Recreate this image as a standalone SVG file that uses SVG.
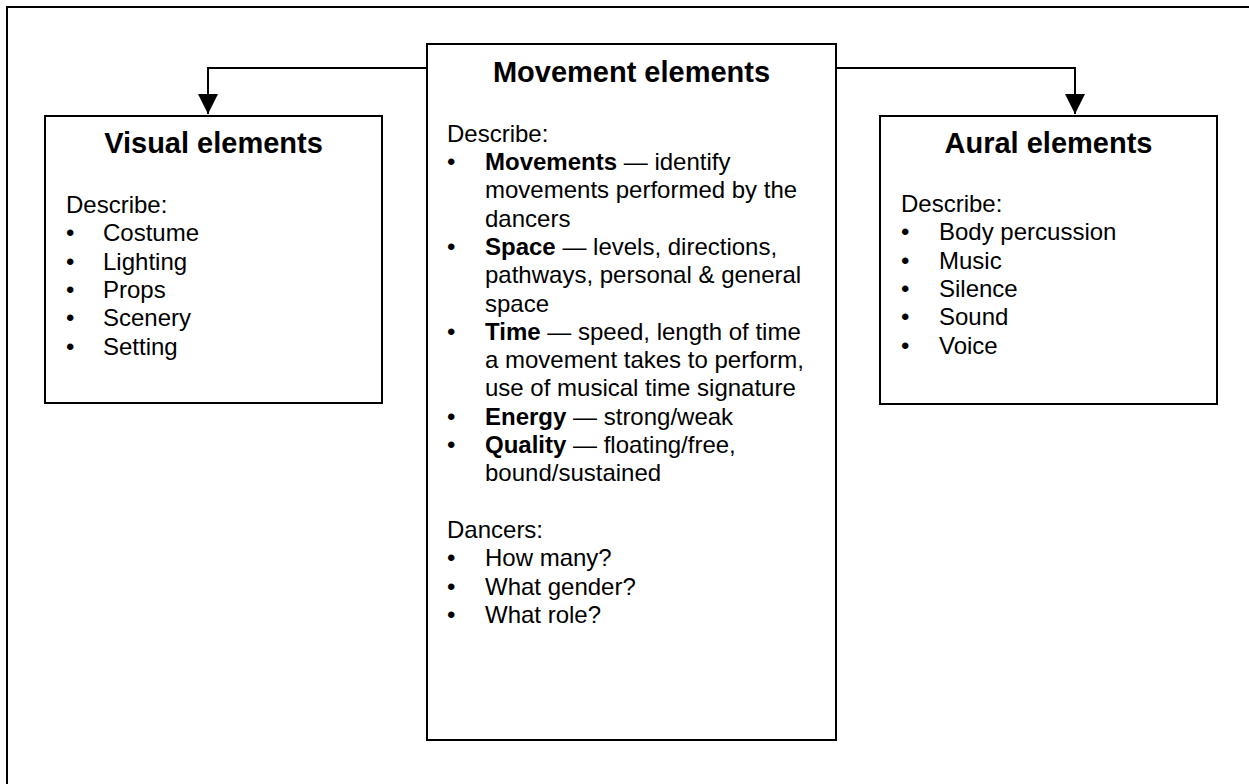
<svg xmlns="http://www.w3.org/2000/svg" width="1249" height="784" viewBox="0 0 1249 784">
<style>
.box{fill:#fff;stroke:#000;stroke-width:2}
.ln{fill:none;stroke:#000;stroke-width:2}
.t{font-family:"Liberation Sans",Arial,sans-serif;font-size:24px;fill:#000}
.h{font-family:"Liberation Sans",Arial,sans-serif;font-size:29px;font-weight:bold;fill:#000;text-anchor:middle}
.b{font-weight:bold}
</style>
<defs>
<marker id="ah" markerWidth="20" markerHeight="20" refX="20" refY="10" orient="auto" markerUnits="userSpaceOnUse">
<path d="M0,0 L20,10 L0,20 Z" fill="#000"/>
</marker>
</defs>
<rect width="1249" height="784" fill="#fff"/>
<g id="frame"><path class="ln" d="M7,784 L7,7 L1249,7"/></g>
<g id="connectors">
<path class="ln" d="M427,68 L208,68 L208,114" marker-end="url(#ah)"/>
<path class="ln" d="M836,68 L1075,68 L1075,114" marker-end="url(#ah)"/>
</g>
<g id="visual">
<rect class="box" x="45" y="116" width="337" height="287"/>
<text class="h" x="213.5" y="153">Visual elements</text>
<text class="t" x="66" y="213">Describe:</text>
<text class="t"><tspan x="66" y="241.3">•</tspan><tspan x="103">Costume</tspan></text>
<text class="t"><tspan x="66" y="269.6">•</tspan><tspan x="103">Lighting</tspan></text>
<text class="t"><tspan x="66" y="297.9">•</tspan><tspan x="103">Props</tspan></text>
<text class="t"><tspan x="66" y="326.2">•</tspan><tspan x="103">Scenery</tspan></text>
<text class="t"><tspan x="66" y="354.5">•</tspan><tspan x="103">Setting</tspan></text>
</g>
<g id="movement">
<rect class="box" x="427" y="44" width="409" height="696"/>
<text class="h" x="631.5" y="82">Movement elements</text>
<text class="t" x="447" y="141.7">Describe:</text>
<text class="t"><tspan x="447" y="170">•</tspan><tspan x="485" class="b">Movements</tspan><tspan> — identify</tspan></text>
<text class="t" x="485" y="198.3">movements performed by the</text>
<text class="t" x="485" y="226.6">dancers</text>
<text class="t"><tspan x="447" y="254.9">•</tspan><tspan x="485" class="b">Space</tspan><tspan> — levels, directions,</tspan></text>
<text class="t" x="485" y="283.2">pathways, personal &amp; general</text>
<text class="t" x="485" y="311.5">space</text>
<text class="t"><tspan x="447" y="339.8">•</tspan><tspan x="485" class="b">Time</tspan><tspan> — speed, length of time</tspan></text>
<text class="t" x="485" y="368.1">a movement takes to perform,</text>
<text class="t" x="485" y="396.4">use of musical time signature</text>
<text class="t"><tspan x="447" y="424.7">•</tspan><tspan x="485" class="b">Energy</tspan><tspan> — strong/weak</tspan></text>
<text class="t"><tspan x="447" y="453">•</tspan><tspan x="485" class="b">Quality</tspan><tspan> — floating/free,</tspan></text>
<text class="t" x="485" y="481.3">bound/sustained</text>
<text class="t" x="447" y="537.9">Dancers:</text>
<text class="t"><tspan x="447" y="566.2">•</tspan><tspan x="485">How many?</tspan></text>
<text class="t"><tspan x="447" y="594.5">•</tspan><tspan x="485">What gender?</tspan></text>
<text class="t"><tspan x="447" y="622.8">•</tspan><tspan x="485">What role?</tspan></text>
</g>
<g id="aural">
<rect class="box" x="880" y="116" width="337" height="288"/>
<text class="h" x="1048.5" y="153">Aural elements</text>
<text class="t" x="901" y="212">Describe:</text>
<text class="t"><tspan x="901" y="240.3">•</tspan><tspan x="939">Body percussion</tspan></text>
<text class="t"><tspan x="901" y="268.6">•</tspan><tspan x="939">Music</tspan></text>
<text class="t"><tspan x="901" y="296.9">•</tspan><tspan x="939">Silence</tspan></text>
<text class="t"><tspan x="901" y="325.2">•</tspan><tspan x="939">Sound</tspan></text>
<text class="t"><tspan x="901" y="353.5">•</tspan><tspan x="939">Voice</tspan></text>
</g>
</svg>
